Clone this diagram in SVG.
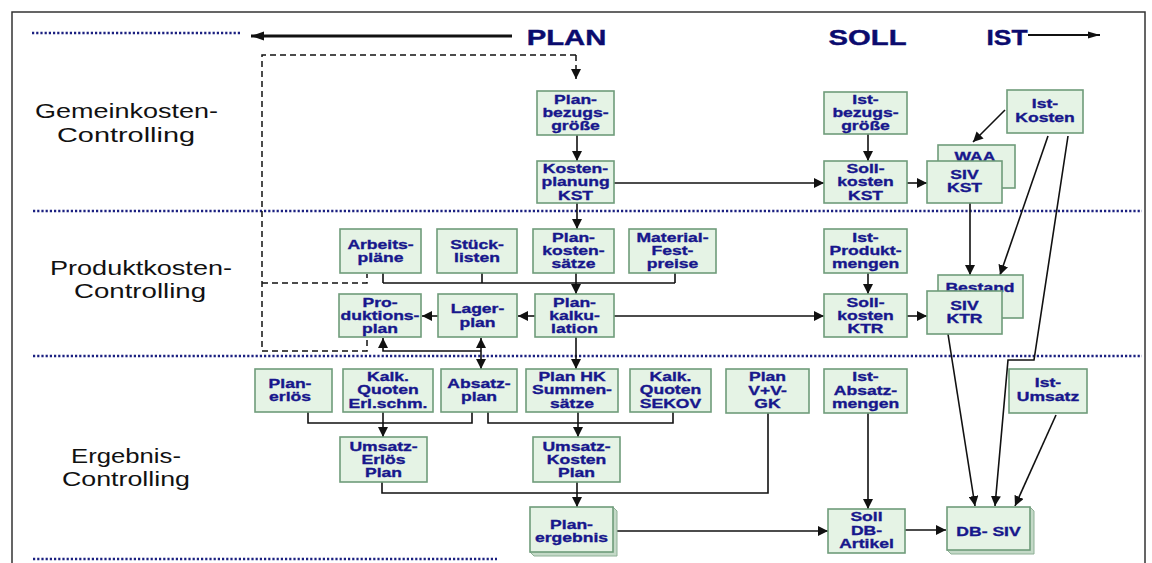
<svg xmlns="http://www.w3.org/2000/svg" width="1152" height="563" viewBox="0 0 1152 563">
<style>
.box{fill:#e5f3e5;stroke:#6f9c7a;stroke-width:1.6}
.sh{fill:#c4d9c7;stroke:#8fb096;stroke-width:1}
.t{font-family:"Liberation Sans",Arial,sans-serif;font-weight:bold;font-size:13.5px;fill:#17178c;stroke:#17178c;stroke-width:0.35;text-anchor:middle}
.sec{font-family:"Liberation Sans",Arial,sans-serif;font-size:21px;fill:#111;text-anchor:middle}
.hd{font-family:"Liberation Sans",Arial,sans-serif;font-weight:bold;font-size:22px;fill:#0b0b6e;stroke:#0b0b6e;stroke-width:0.4;text-anchor:middle}
.dot{stroke:#1b2080;stroke-width:2.6;stroke-dasharray:2.2 2;fill:none}
.ln{fill:none;stroke:#111;stroke-width:1.6}
.dash{fill:none;stroke:#111;stroke-width:1.5;stroke-dasharray:6 4}
</style>
<defs>
<marker id="ah" markerUnits="userSpaceOnUse" markerWidth="10" markerHeight="10" refX="10" refY="5" orient="auto-start-reverse"><path d="M0,0 L10,5 L0,10 z" fill="#111"/></marker>
<marker id="big" markerUnits="userSpaceOnUse" markerWidth="14" markerHeight="10" refX="13" refY="5" orient="auto"><path d="M0,0.5 L13,5 L0,9.5 z" fill="#111"/></marker>
<marker id="sm" markerUnits="userSpaceOnUse" markerWidth="13" markerHeight="8" refX="12" refY="4" orient="auto"><path d="M0,0.5 L12,4 L0,7.5 z" fill="#111"/></marker>
</defs>
<rect x="0" y="0" width="1152" height="563" fill="#fff"/>
<rect x="12" y="12" width="1133" height="600" fill="none" stroke="#333" stroke-width="1.5"/>

<g id="separators">
<path class="dot" d="M32,33 H240"/>
<path class="dot" d="M33,211 H1142"/>
<path class="dot" d="M33,356 H1142"/>
<path class="dot" d="M33,559 H497"/>
</g>

<g id="header">
<path d="M512,36 H251" stroke="#111" stroke-width="3" fill="none" marker-end="url(#big)"/>
<text class="hd" transform="translate(566.5,45) scale(1.33,1)">PLAN</text>
<text class="hd" transform="translate(867.5,45) scale(1.33,1)">SOLL</text>
<text class="hd" transform="translate(1007,45) scale(1.2,1)">IST</text>
<path d="M1028,35 H1100" stroke="#111" stroke-width="2" fill="none" marker-end="url(#sm)"/>
</g>

<g id="sections">
<text class="sec" x="126.5" y="118" textLength="183" lengthAdjust="spacingAndGlyphs">Gemeinkosten-</text>
<text class="sec" x="126" y="142" textLength="138" lengthAdjust="spacingAndGlyphs">Controlling</text>
<text class="sec" x="141" y="275" textLength="182" lengthAdjust="spacingAndGlyphs">Produktkosten-</text>
<text class="sec" x="140" y="298" textLength="132" lengthAdjust="spacingAndGlyphs">Controlling</text>
<text class="sec" x="126" y="463" textLength="110" lengthAdjust="spacingAndGlyphs">Ergebnis-</text>
<text class="sec" x="126" y="486" textLength="128" lengthAdjust="spacingAndGlyphs">Controlling</text>
</g>

<g id="connectors">
<path class="dash" d="M576,55 H262 V351 H367 V338 M262,283 H367 V274"/>
<path class="dash" d="M576,55 V79" marker-end="url(#ah)"/>
<path class="ln" d="M577,135 V161" marker-end="url(#ah)"/>
<path class="ln" d="M577,203 V229" marker-end="url(#ah)"/>
<path class="ln" d="M614,183 H824" marker-end="url(#ah)"/>
<path class="ln" d="M868,134 V161" marker-end="url(#ah)"/>
<path class="ln" d="M907,183 H927" marker-end="url(#ah)"/>
<path class="ln" d="M1005,110 L973,142" marker-end="url(#ah)"/>
<path class="ln" d="M1048,136 L1000,275" marker-end="url(#ah)"/>
<path class="ln" d="M970,203 V275" marker-end="url(#ah)"/>
<path class="ln" d="M1068,136 L1034,360 H1008 L995,506" marker-end="url(#ah)"/>
<path class="ln" d="M383,273 V283 M482,273 V283 M675,273 V283 M383,283 H675"/>
<path class="ln" d="M576,273 V294" marker-end="url(#ah)"/>
<path class="ln" d="M535,316 H518" marker-end="url(#ah)"/>
<path class="ln" d="M438,316 H422" marker-end="url(#ah)"/>
<path class="ln" d="M614,316 H824" marker-end="url(#ah)"/>
<path class="ln" d="M907,316 H927" marker-end="url(#ah)"/>
<path class="ln" d="M868,273 V294" marker-end="url(#ah)"/>
<path class="ln" d="M948,334 L975,506" marker-end="url(#ah)"/>
<path class="ln" d="M481,338 V369" marker-start="url(#ah)" marker-end="url(#ah)"/>
<path class="ln" d="M481,351 H383 V338" marker-end="url(#ah)"/>
<path class="ln" d="M576,337 V369" marker-end="url(#ah)"/>
<path class="ln" d="M308,412 V423 H472 V412"/>
<path class="ln" d="M383,412 V437" marker-end="url(#ah)"/>
<path class="ln" d="M488,412 V423 H673 V412"/>
<path class="ln" d="M578,412 V437" marker-end="url(#ah)"/>
<path class="ln" d="M382,482 V493 H768 V413"/>
<path class="ln" d="M577,482 V507" marker-end="url(#ah)"/>
<path class="ln" d="M613,531 H828" marker-end="url(#ah)"/>
<path class="ln" d="M868,413 V509" marker-end="url(#ah)"/>
<path class="ln" d="M905,530 H946" marker-end="url(#ah)"/>
<path class="ln" d="M1056,415 L1015,506" marker-end="url(#ah)"/>
</g>

<g id="n-planbezug"><rect class="box" x="537" y="91" width="77" height="44"/>
<text class="t" transform="translate(575.5,0) scale(1.3,1)"><tspan x="0" y="104.5">Plan-</tspan><tspan x="0" y="117.5">bezugs-</tspan><tspan x="0" y="130.5">größe</tspan></text></g>
<g id="n-kostenplanung"><rect class="box" x="537" y="161" width="77" height="42"/>
<text class="t" transform="translate(575.5,0) scale(1.3,1)"><tspan x="0" y="173">Kosten-</tspan><tspan x="0" y="186.5">planung</tspan><tspan x="0" y="200">KST</tspan></text></g>
<g id="n-istbezug"><rect class="box" x="824" y="92" width="83" height="42"/>
<text class="t" transform="translate(865.5,0) scale(1.3,1)"><tspan x="0" y="104.5">Ist-</tspan><tspan x="0" y="117.5">bezugs-</tspan><tspan x="0" y="130.5">größe</tspan></text></g>
<g id="n-sollkst"><rect class="box" x="824" y="161" width="83" height="42"/>
<text class="t" transform="translate(865.5,0) scale(1.3,1)"><tspan x="0" y="173">Soll-</tspan><tspan x="0" y="186.5">kosten</tspan><tspan x="0" y="200">KST</tspan></text></g>
<g id="n-waa"><rect class="box" x="938" y="145" width="77" height="43"/>
<text class="t" transform="translate(975,161) scale(1.3,1)">WAA</text></g>
<g id="n-sivkst"><rect class="box" x="927" y="161" width="75" height="42"/>
<text class="t" transform="translate(964.5,0) scale(1.3,1)"><tspan x="0" y="179.5">SIV</tspan><tspan x="0" y="192.5">KST</tspan></text></g>
<g id="n-istkosten"><rect class="box" x="1007" y="90" width="76" height="43"/>
<text class="t" transform="translate(1045,0) scale(1.3,1)"><tspan x="0" y="108">Ist-</tspan><tspan x="0" y="122">Kosten</tspan></text></g>

<g id="n-arbeitsplaene"><rect class="box" x="340" y="229" width="81" height="44"/>
<text class="t" transform="translate(380.5,0) scale(1.3,1)"><tspan x="0" y="249">Arbeits-</tspan><tspan x="0" y="262">pläne</tspan></text></g>
<g id="n-stuecklisten"><rect class="box" x="437" y="229" width="80" height="44"/>
<text class="t" transform="translate(477,0) scale(1.3,1)"><tspan x="0" y="249">Stück-</tspan><tspan x="0" y="262">listen</tspan></text></g>
<g id="n-plankostensaetze"><rect class="box" x="533" y="229" width="81" height="44"/>
<text class="t" transform="translate(573.5,0) scale(1.3,1)"><tspan x="0" y="242.5">Plan-</tspan><tspan x="0" y="255.5">kosten-</tspan><tspan x="0" y="268.5">sätze</tspan></text></g>
<g id="n-material"><rect class="box" x="629" y="229" width="87" height="44"/>
<text class="t" transform="translate(672.5,0) scale(1.3,1)"><tspan x="0" y="242.5">Material-</tspan><tspan x="0" y="255.5">Fest-</tspan><tspan x="0" y="268.5">preise</tspan></text></g>
<g id="n-istprodukt"><rect class="box" x="824" y="229" width="83" height="44"/>
<text class="t" transform="translate(865.5,0) scale(1.3,1)"><tspan x="0" y="242.5">Ist-</tspan><tspan x="0" y="255.5">Produkt-</tspan><tspan x="0" y="268.5">mengen</tspan></text></g>
<g id="n-produktionsplan"><rect class="box" x="339" y="294" width="82" height="43"/>
<text class="t" transform="translate(380,0) scale(1.3,1)"><tspan x="0" y="307">Pro-</tspan><tspan x="0" y="320">duktions-</tspan><tspan x="0" y="333">plan</tspan></text></g>
<g id="n-lagerplan"><rect class="box" x="438" y="294" width="79" height="43"/>
<text class="t" transform="translate(477.5,0) scale(1.3,1)"><tspan x="0" y="313.5">Lager-</tspan><tspan x="0" y="327">plan</tspan></text></g>
<g id="n-plankalkulation"><rect class="box" x="535" y="294" width="79" height="43"/>
<text class="t" transform="translate(574.5,0) scale(1.3,1)"><tspan x="0" y="307">Plan-</tspan><tspan x="0" y="320">kalku-</tspan><tspan x="0" y="333">lation</tspan></text></g>
<g id="n-sollktr"><rect class="box" x="824" y="294" width="83" height="43"/>
<text class="t" transform="translate(865.5,0) scale(1.3,1)"><tspan x="0" y="307">Soll-</tspan><tspan x="0" y="320">kosten</tspan><tspan x="0" y="333">KTR</tspan></text></g>
<g id="n-bestand"><rect class="box" x="938" y="275" width="85" height="43"/>
<text class="t" transform="translate(980,292) scale(1.3,1)">Bestand</text></g>
<g id="n-sivktr"><rect class="box" x="927" y="291" width="75" height="43"/>
<text class="t" transform="translate(964.5,0) scale(1.3,1)"><tspan x="0" y="310.5">SIV</tspan><tspan x="0" y="323.5">KTR</tspan></text></g>

<g id="n-planerloes"><rect class="box" x="255" y="369" width="77" height="43"/>
<text class="t" transform="translate(290,0) scale(1.3,1)"><tspan x="0" y="388.5">Plan-</tspan><tspan x="0" y="401.5">erlös</tspan></text></g>
<g id="n-kalkerl"><rect class="box" x="343" y="369" width="90" height="43"/>
<text class="t" transform="translate(388,0) scale(1.3,1)"><tspan x="0" y="381.5">Kalk.</tspan><tspan x="0" y="394.5">Quoten</tspan><tspan x="0" y="408">Erl.schm.</tspan></text></g>
<g id="n-absatzplan"><rect class="box" x="441" y="369" width="76" height="43"/>
<text class="t" transform="translate(479,0) scale(1.3,1)"><tspan x="0" y="388.5">Absatz-</tspan><tspan x="0" y="401.5">plan</tspan></text></g>
<g id="n-planhk"><rect class="box" x="526" y="369" width="92" height="43"/>
<text class="t" transform="translate(572,0) scale(1.3,1)"><tspan x="0" y="381.5">Plan HK</tspan><tspan x="0" y="394.5">Summen-</tspan><tspan x="0" y="408">sätze</tspan></text></g>
<g id="n-kalksekov"><rect class="box" x="630" y="369" width="81" height="43"/>
<text class="t" transform="translate(670.5,0) scale(1.3,1)"><tspan x="0" y="381.5">Kalk.</tspan><tspan x="0" y="394.5">Quoten</tspan><tspan x="0" y="408">SEKOV</tspan></text></g>
<g id="n-planvv"><rect class="box" x="726" y="369" width="83" height="44"/>
<text class="t" transform="translate(767.5,0) scale(1.3,1)"><tspan x="0" y="381.5">Plan</tspan><tspan x="0" y="395">V+V-</tspan><tspan x="0" y="408.5">GK</tspan></text></g>
<g id="n-istabsatz"><rect class="box" x="824" y="369" width="83" height="44"/>
<text class="t" transform="translate(865.5,0) scale(1.3,1)"><tspan x="0" y="381.5">Ist-</tspan><tspan x="0" y="395">Absatz-</tspan><tspan x="0" y="408.5">mengen</tspan></text></g>
<g id="n-istumsatz"><rect class="box" x="1009" y="369" width="78" height="44"/>
<text class="t" transform="translate(1048,0) scale(1.3,1)"><tspan x="0" y="387.5">Ist-</tspan><tspan x="0" y="401.5">Umsatz</tspan></text></g>
<g id="n-umsatzerloes"><rect class="box" x="340" y="437" width="87" height="45"/>
<text class="t" transform="translate(383.5,0) scale(1.3,1)"><tspan x="0" y="451.5">Umsatz-</tspan><tspan x="0" y="464.5">Erlös</tspan><tspan x="0" y="477.5">Plan</tspan></text></g>
<g id="n-umsatzkosten"><rect class="box" x="533" y="437" width="87" height="45"/>
<text class="t" transform="translate(576.5,0) scale(1.3,1)"><tspan x="0" y="451.5">Umsatz-</tspan><tspan x="0" y="464.5">Kosten</tspan><tspan x="0" y="477.5">Plan</tspan></text></g>
<g id="n-planergebnis"><path class="sh" d="M613,507 L617,511 L617,556 L534,556 L530,552 Z"/><rect class="box" x="530" y="507" width="83" height="45"/>
<text class="t" transform="translate(571.5,0) scale(1.3,1)"><tspan x="0" y="529.5">Plan-</tspan><tspan x="0" y="542.5">ergebnis</tspan></text></g>
<g id="n-solldb"><rect class="box" x="828" y="509" width="77" height="44"/>
<text class="t" transform="translate(866.5,0) scale(1.3,1)"><tspan x="0" y="521.5">Soll</tspan><tspan x="0" y="535">DB-</tspan><tspan x="0" y="548.5">Artikel</tspan></text></g>
<g id="n-dbsiv"><path class="sh" d="M1030,507 L1034,511 L1034,554 L951,554 L947,550 Z"/><rect class="box" x="947" y="507" width="83" height="43"/>
<text class="t" transform="translate(988.5,535.5) scale(1.3,1)">DB- SIV</text></g>
</svg>
